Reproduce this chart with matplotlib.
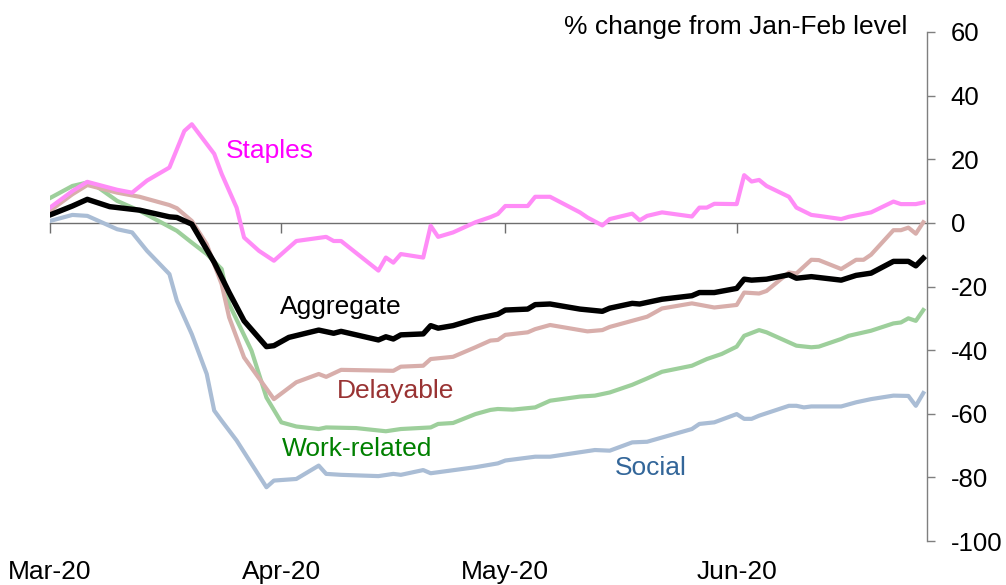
import pandas as pd
import matplotlib
matplotlib.use("Agg")
import matplotlib.pyplot as plt
import matplotlib.dates as mdates

plt.rcParams['font.family'] = ['Liberation Sans', 'DejaVu Sans']
plt.rcParams['axes.unicode_minus'] = False

start = pd.Timestamp('2020-03-01')

# days since 1 Mar 2020, % change from Jan-Feb level
staples_days = [0, 3, 5, 9, 11, 13, 16, 18, 19, 22, 23, 25, 26, 28, 30, 33, 37, 38, 39, 44, 45, 46, 47, 50,
                51, 52, 54, 57, 59, 60, 61, 64, 65, 67, 71, 72, 74, 75, 78, 79, 80, 82, 86, 87, 88, 89, 92,
                93, 94, 95, 96, 99, 100, 102, 103, 106, 107, 110, 113, 114, 116, 117]
staples = [4.8, 10.0, 12.9, 10.4, 9.5, 13.3, 17.4, 28.9, 31.0, 21.7, 15.4, 4.8, -4.6, -8.8, -11.9, -5.7, -4.4,
           -5.7, -5.7, -15.0, -10.9, -12.5, -9.8, -10.9, -0.9, -4.4, -3.0, 0.2, 1.8, 2.8, 5.3, 5.3, 8.2, 8.2,
           3.3, 1.7, -0.8, 1.2, 2.9, 0.8, 2.2, 3.3, 2.0, 4.8, 4.8, 6.0, 5.9, 15.0, 13.0, 13.5, 11.6, 8.2, 4.8,
           2.5, 2.2, 1.2, 1.9, 3.3, 6.7, 5.9, 5.9, 6.4]

aggregate_days = [0, 3, 5, 8, 12, 16, 17, 19, 22, 24, 26, 29, 30, 32, 36, 38, 39, 44, 45, 46, 47, 50, 51, 52,
                  54, 57, 59, 60, 61, 64, 65, 67, 71, 74, 75, 78, 79, 82, 86, 87, 89, 92, 93, 94, 96, 99, 100,
                  102, 106, 108, 110, 113, 115, 116, 117]
aggregate = [2.5, 5.3, 7.4, 5.1, 4.0, 1.9, 1.7, -0.4, -12.4, -21.9, -30.8, -38.9, -38.6, -36.0, -33.7, -34.7,
             -34.1, -36.8, -35.8, -36.5, -35.2, -34.9, -32.3, -33.1, -32.3, -30.2, -29.2, -28.7, -27.4, -27.1,
             -25.7, -25.5, -27.1, -27.8, -26.8, -25.3, -25.5, -24.0, -22.9, -21.9, -21.9, -20.6, -17.7, -18.0,
             -17.7, -16.3, -17.4, -16.9, -18.0, -16.5, -15.8, -12.1, -12.1, -13.5, -11.1]

delayable_days = [0, 3, 5, 9, 12, 16, 17, 19, 21, 23, 24, 26, 30, 33, 36, 37, 39, 46, 47, 50, 51, 54, 57, 59,
                  60, 61, 64, 65, 67, 72, 74, 75, 80, 82, 86, 89, 92, 93, 95, 96, 99, 100, 102, 103, 106, 108,
                  109, 110, 113, 114, 115, 116, 117]
delayable = [3.8, 9.0, 11.9, 9.5, 8.2, 5.6, 4.6, 0.6, -6.7, -19.3, -29.7, -42.3, -55.4, -50.1, -47.5, -48.4,
             -46.2, -46.5, -45.2, -44.9, -42.8, -42.1, -39.1, -37.0, -36.8, -35.2, -34.4, -33.4, -32.1, -34.1,
             -33.7, -32.7, -29.5, -26.9, -25.3, -26.6, -25.8, -21.9, -22.2, -21.4, -15.6, -15.9, -11.6, -11.7,
             -14.5, -11.6, -11.6, -10.0, -2.3, -2.3, -1.5, -3.4, 0.2]

work_days = [0, 3, 5, 6, 9, 12, 17, 19, 21, 23, 24, 27, 29, 31, 33, 36, 37, 41, 45, 47, 51, 52, 54, 57, 59,
             60, 62, 65, 67, 71, 73, 75, 78, 80, 82, 86, 88, 90, 92, 93, 95, 96, 100, 102, 103, 106, 107, 110,
             113, 114, 115, 116, 117]
work = [7.8, 11.6, 12.7, 11.9, 6.9, 3.8, -2.5, -6.2, -9.8, -14.5, -25.5, -40.2, -54.9, -62.7, -64.0, -64.8,
        -64.3, -64.5, -65.5, -64.8, -64.3, -63.2, -62.9, -60.1, -58.8, -58.5, -58.7, -58.0, -55.9, -54.6,
        -54.3, -53.3, -50.9, -48.9, -46.8, -44.9, -42.8, -41.2, -38.9, -35.5, -33.7, -34.4, -38.6, -39.1,
        -38.9, -36.5, -35.5, -33.9, -31.6, -31.3, -30.0, -30.8, -27.4]

social_days = [0, 3, 5, 9, 11, 13, 16, 17, 19, 21, 22, 23, 25, 29, 30, 33, 36, 37, 39, 44, 46, 47, 50, 51, 57,
               60, 61, 65, 67, 73, 75, 78, 80, 86, 87, 89, 92, 93, 94, 95, 99, 100, 101, 102, 106, 108, 110,
               113, 115, 116, 117]
social = [0.6, 2.5, 2.2, -2.0, -3.0, -8.8, -16.1, -24.5, -35.0, -47.5, -59.0, -62.2, -68.4, -83.1, -81.0,
          -80.5, -76.3, -78.9, -79.2, -79.6, -78.9, -79.2, -77.7, -78.7, -76.8, -75.6, -74.7, -73.5, -73.5,
          -71.4, -71.6, -69.0, -68.8, -64.8, -63.2, -62.7, -60.1, -61.6, -61.6, -60.6, -57.5, -57.5, -58.0,
          -57.7, -57.7, -56.4, -55.4, -54.3, -54.4, -57.5, -53.5]

month_ticks = ['2020-03-01', '2020-04-01', '2020-05-01', '2020-06-01']


def to_dates(days):
    return start + pd.to_timedelta(days, unit='D')


fig = plt.figure(figsize=(10.06, 5.85), dpi=100)
ax = fig.add_axes([0.0497, 0.0752, 0.8718, 0.8701])

ax.plot(to_dates(social_days), social, color='#aabdd5', lw=3.0)
ax.plot(to_dates(work_days), work, color='#9dcf9b', lw=3.0)
ax.plot(to_dates(delayable_days), delayable, color='#d8aeab', lw=3.0)
ax.plot(to_dates(staples_days), staples, color='#ff8cf7', lw=3.0)
ax.plot(to_dates(aggregate_days), aggregate, color='black', lw=3.9)

ax.set_ylim(-100, 60)
ax.set_xlim(start, start + pd.Timedelta(days=117.5))

# y axis on the right
ax.spines['left'].set_visible(False)
ax.spines['top'].set_visible(False)
ax.spines['bottom'].set_visible(False)
ax.spines['right'].set_color('#7f7f7f')
ax.spines['right'].set_linewidth(1.0)
ax.yaxis.tick_right()
ax.set_yticks(range(-100, 61, 20))
ax.tick_params(axis='y', direction='out', length=6, width=1, color='#7f7f7f', pad=11, labelsize=18.5)

# month labels at the bottom, tick marks on the zero line
ticks = pd.to_datetime(month_ticks)
ax.set_xticks(ticks)
ax.xaxis.set_major_formatter(mdates.DateFormatter('%b-%y'))
ax.tick_params(axis='x', length=0, pad=14, labelsize=19)

zero_ax = ax.secondary_xaxis(100 / 160)
zero_ax.set_xticks(ticks)
zero_ax.set_xticklabels([])
zero_ax.tick_params(axis='x', direction='in', length=7, width=1, color='#6e6e6e',
                    labeltop=False, labelbottom=False)
for s in zero_ax.spines.values():
    s.set_color('#6e6e6e')
    s.set_linewidth(1.0)

ax.text(0.978, 1.01, '% change from Jan-Feb level', transform=ax.transAxes,
        ha='right', va='center', fontsize=19)

ax.text(start + pd.Timedelta(days=29.5), 22.5, 'Staples', color='#ff00ff', fontsize=19, ha='center', va='center')
ax.text(start + pd.Timedelta(days=39), -26.4, 'Aggregate', color='black', fontsize=19, ha='center', va='center')
ax.text(start + pd.Timedelta(days=46.3), -52.8, 'Delayable', color='#993333', fontsize=19, ha='center', va='center')
ax.text(start + pd.Timedelta(days=41.2), -71.2, 'Work-related', color='#008000', fontsize=19, ha='center', va='center')
ax.text(start + pd.Timedelta(days=80.5), -77.2, 'Social', color='#336699', fontsize=19, ha='center', va='center')

fig.savefig('out.png', dpi=100)
